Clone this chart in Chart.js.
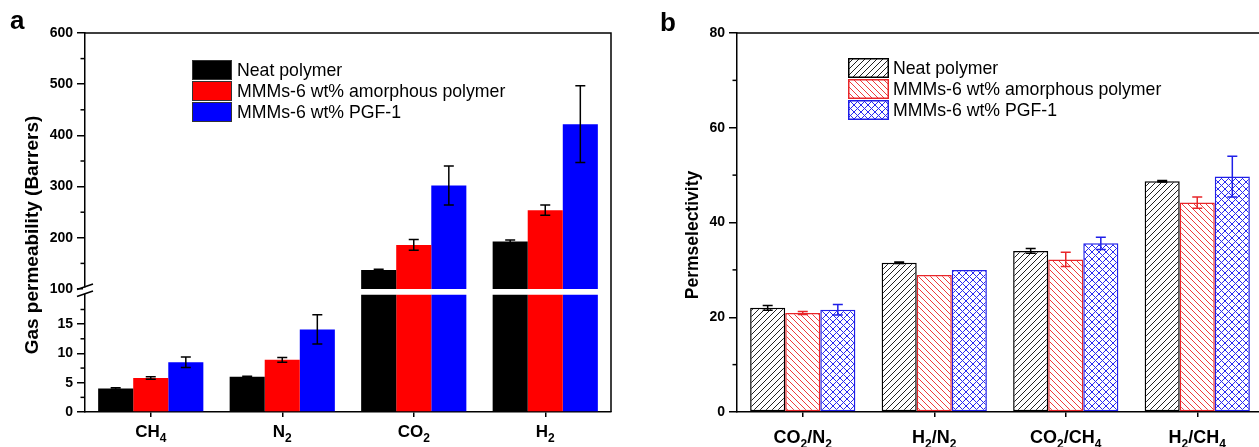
<!DOCTYPE html>
<html><head><meta charset="utf-8">
<script src="https://cdn.jsdelivr.net/npm/chart.js@4.4.1/dist/chart.umd.min.js"></script>
<style>
html,body{margin:0;padding:0;background:#fff;overflow:hidden;width:1259px;height:447px;position:relative;}
#ca{position:absolute;left:0;top:0;}
#cb{position:absolute;left:630px;top:0;}
</style></head><body>
<canvas id="ca" width="630" height="447"></canvas>
<canvas id="cb" width="650" height="447"></canvas>
<script>
// ---------- data ----------
const seriesNames = ['Neat polymer', 'MMMs-6 wt% amorphous polymer', 'MMMs-6 wt% PGF-1'];

// panel a: gas permeability (Barrers)
const gases = ['CH4', 'N2', 'CO2', 'H2'];
const permNeat = [4.0, 6.0, 137, 193];
const permNeatErr = [0.15, 0.1, 1.5, 2.5];
const permAmorph = [5.8, 8.9, 186, 254];
const permAmorphErr = [0.2, 0.4, 10.5, 10];
const permPGF = [8.5, 14.1, 302, 422];
const permPGFErr = [0.9, 2.5, 38, 75];
const permLowTicks = [0, 5, 10, 15];
const permHighTicks = [100, 200, 300, 400, 500, 600];
const breakLow = 20, breakHigh = 100;

// panel b: permselectivity
const pairs = ['CO2/N2', 'H2/N2', 'CO2/CH4', 'H2/CH4'];
const selNeat = [22.0, 31.5, 34.0, 48.7];
const selNeatErr = [0.5, 0.15, 0.5, 0.15];
const selAmorph = [20.9, 28.9, 32.2, 44.2];
const selAmorphErr = [0.3, 0, 1.5, 1.2];
const selPGF = [21.6, 30.0, 35.6, 49.7];
const selPGFErr = [1.1, 0, 1.3, 4.3];
const selTicks = [0, 20, 40, 60, 80];

// ---------- styling helpers ----------
const FAMILY = "'Liberation Sans', Arial, Helvetica, sans-serif";
Chart.defaults.font.family = FAMILY;
Chart.defaults.color = '#000';
const AW = 1.5;

function yScale(ticksList, width, extra) {
  return Object.assign({
    type: 'linear', position: 'left', stacked: false,
    afterBuildTicks: s => { s.ticks = ticksList.map(v => ({ value: v })); },
    ticks: { font: { size: 14, weight: 'bold' }, color: '#000', padding: 4 },
    grid: { drawOnChartArea: false, drawTicks: true, tickLength: 8, color: '#000', tickColor: '#000', tickWidth: AW, lineWidth: AW },
    border: { display: true, color: '#000', width: AW },
    afterFit: s => { s.width = width; }
  }, extra);
}
function xScale(labels, stacked) {
  return {
    type: 'category', labels, stacked, offset: true,
    grid: { offset: false, drawOnChartArea: false, drawTicks: true, tickLength: 5, color: '#000', tickColor: '#000', tickWidth: AW, lineWidth: AW },
    border: { display: true, color: '#000', width: AW },
    ticks: { display: false },
    afterFit: s => { s.height = 35; }
  };
}

function makePattern(color, kind, size) {
  const c = document.createElement('canvas');
  c.width = c.height = size;
  const g = c.getContext('2d');
  g.fillStyle = '#fff'; g.fillRect(0, 0, size, size);
  g.strokeStyle = color; g.lineWidth = 1;
  g.beginPath();
  if (kind === 'fwd' || kind === 'cross') {
    g.moveTo(-1, size + 1); g.lineTo(size + 1, -1);
    g.moveTo(-1, 1); g.lineTo(1, -1);
    g.moveTo(size - 1, size + 1); g.lineTo(size + 1, size - 1);
  }
  if (kind === 'back' || kind === 'cross') {
    g.moveTo(-1, -1); g.lineTo(size + 1, size + 1);
    g.moveTo(size - 1, -1); g.lineTo(size + 1, 1);
    g.moveTo(-1, size - 1); g.lineTo(1, size + 1);
  }
  g.stroke();
  return g.createPattern(c, 'repeat');
}

function drawSubLabel(ctx, text, cx, baseline, mainSize, subSize, drop) {
  const runs = text.match(/(\d+|\D+)/g);
  const fontFor = r => /\d/.test(r) ? `bold ${subSize}px ${FAMILY}` : `bold ${mainSize}px ${FAMILY}`;
  let total = 0;
  runs.forEach(r => { ctx.font = fontFor(r); total += ctx.measureText(r).width; });
  let x = cx - total / 2;
  ctx.textAlign = 'left'; ctx.textBaseline = 'alphabetic'; ctx.fillStyle = '#000';
  runs.forEach(r => {
    ctx.font = fontFor(r);
    ctx.fillText(r, x, /\d/.test(r) ? baseline + drop : baseline);
    x += ctx.measureText(r).width;
  });
}

function drawMinorTicks(chart, ids) {
  const ctx = chart.ctx;
  ctx.save(); ctx.strokeStyle = '#000'; ctx.lineWidth = AW;
  ids.forEach(id => {
    const s = chart.scales[id];
    const vals = s.ticks.map(t => t.value);
    const step = vals[1] - vals[0];
    vals.forEach(v => {
      const m = v + step / 2;
      if (m < s.max) {
        const y = s.getPixelForValue(m);
        ctx.beginPath(); ctx.moveTo(s.right - 4.5, y); ctx.lineTo(s.right, y); ctx.stroke();
      }
    });
  });
  ctx.restore();
}

function drawErrorBars(chart) {
  const ctx = chart.ctx;
  chart.data.datasets.forEach((ds, di) => {
    if (!ds.errors) return;
    const meta = chart.getDatasetMeta(di);
    ctx.save(); ctx.strokeStyle = ds.errColor; ctx.lineWidth = 1.5;
    ds.values.forEach((v, i) => {
      const e = ds.errors[i];
      if (!e) return;
      const sid = ds.breakAt !== undefined ? (v > ds.breakAt ? 'yHigh' : 'yLow') : ds.yAxisID;
      const s = chart.scales[sid];
      const x = meta.data[i].x;
      const y1 = s.getPixelForValue(v - e), y2 = s.getPixelForValue(v + e);
      ctx.beginPath();
      ctx.moveTo(x, y1); ctx.lineTo(x, y2);
      ctx.moveTo(x - 5, y1); ctx.lineTo(x + 5, y1);
      ctx.moveTo(x - 5, y2); ctx.lineTo(x + 5, y2);
      ctx.stroke();
    });
    ctx.restore();
  });
}

function drawFrame(chart) {
  const { left, right, top, bottom } = chart.chartArea;
  const ctx = chart.ctx;
  ctx.save(); ctx.strokeStyle = '#000'; ctx.lineWidth = AW;
  ctx.beginPath(); ctx.moveTo(left, top); ctx.lineTo(right, top); ctx.lineTo(right, bottom); ctx.stroke();
  ctx.restore();
}

function drawLegend(ctx, items, bx, by, bw, bh, rowH, tx, fontSize) {
  ctx.save();
  items.forEach((it, k) => {
    const y = by + k * rowH;
    ctx.fillStyle = it.fill; ctx.fillRect(bx, y, bw, bh);
    ctx.strokeStyle = it.stroke; ctx.lineWidth = it.lw;
    ctx.strokeRect(bx + it.lw / 2, y + it.lw / 2, bw - it.lw, bh - it.lw);
    ctx.fillStyle = '#000'; ctx.font = `${fontSize}px ${FAMILY}`;
    ctx.textAlign = 'left'; ctx.textBaseline = 'middle';
    ctx.fillText(it.text, tx, y + bh / 2 + 1);
  });
  ctx.restore();
}

function drawYTitle(ctx, text, cx, cy, size) {
  ctx.save();
  ctx.translate(cx, cy); ctx.rotate(-Math.PI / 2);
  ctx.font = `bold ${size}px ${FAMILY}`; ctx.fillStyle = '#000';
  ctx.textAlign = 'center'; ctx.textBaseline = 'middle';
  ctx.fillText(text, 0, 0);
  ctx.restore();
}

function drawPanelLetter(ctx, letter, x, y, size) {
  ctx.save();
  ctx.font = `bold ${size}px ${FAMILY}`; ctx.fillStyle = '#000';
  ctx.textAlign = 'left'; ctx.textBaseline = 'alphabetic';
  ctx.fillText(letter, x, y);
  ctx.restore();
}

// ---------- panel a ----------
const colA = ['#000000', '#ff0000', '#0000ff'];
const permVals = [permNeat, permAmorph, permPGF];
const permErrs = [permNeatErr, permAmorphErr, permPGFErr];
const lowPart = arr => arr.map(v => Math.min(v, breakLow));
const highPart = arr => arr.map(v => (v > breakHigh ? [breakHigh, v] : null));

const dsA = [];
permVals.forEach((vals, k) => {
  dsA.push({ label: seriesNames[k], data: lowPart(vals), yAxisID: 'yLow', stack: 's' + k,
    backgroundColor: colA[k], borderWidth: 0,
    values: vals, errors: permErrs[k], errColor: '#000', breakAt: breakHigh });
});
permVals.forEach((vals, k) => {
  dsA.push({ label: seriesNames[k], data: highPart(vals), yAxisID: 'yHigh', stack: 's' + k,
    backgroundColor: colA[k], borderWidth: 0 });
});

const pluginA = {
  id: 'panelA',
  afterDatasetsDraw(chart) { drawErrorBars(chart); },
  afterDraw(chart) {
    const ctx = chart.ctx;
    drawFrame(chart);
    drawMinorTicks(chart, ['yLow', 'yHigh']);
    // axis break marks
    const xL = chart.chartArea.left, by = chart.scales.yHigh.bottom;
    ctx.save();
    ctx.fillStyle = '#fff'; ctx.fillRect(xL - 2, by - 1.5, 4, 6.5);
    ctx.strokeStyle = '#000'; ctx.lineWidth = 1.5;
    ctx.beginPath();
    ctx.moveTo(xL - 8, by + 0.5); ctx.lineTo(xL + 8, by - 5);
    ctx.moveTo(xL - 8, by + 7.5); ctx.lineTo(xL + 8, by + 2);
    ctx.stroke();
    ctx.restore();
    // category labels
    const xs = chart.scales.x;
    gases.forEach((g, i) => drawSubLabel(ctx, g, xs.getPixelForValue(i), 437, 17, 12, 5));
    drawLegend(ctx, seriesNames.map((t, k) => ({ text: t, fill: colA[k], stroke: '#333', lw: 1 })),
      192, 60, 40, 20, 21, 237, 17.7);
    drawYTitle(ctx, 'Gas permeability (Barrers)', 33, 235, 19);
    drawPanelLetter(ctx, 'a', 10, 29, 26);
  }
};

new Chart(document.getElementById('ca'), {
  type: 'bar',
  data: { labels: gases, datasets: dsA },
  options: {
    responsive: false, animation: false, devicePixelRatio: 1,
    datasets: { bar: { categoryPercentage: 0.8, barPercentage: 1.0 } },
    layout: { padding: { left: 0, top: 33, right: 19, bottom: 0 } },
    plugins: { legend: { display: false }, tooltip: { enabled: false } },
    scales: {
      x: xScale(gases, true),
      yLow: yScale(permLowTicks, 85, { stack: 'perm', stackWeight: 123, min: 0, max: 21 }),
      yHigh: yScale(permHighTicks, 85, { stack: 'perm', stackWeight: 256, min: 100, max: 600 })
    }
  },
  plugins: [pluginA]
});

// ---------- panel b ----------
const colB = ['#000000', '#e8262a', '#1f1fe8'];
const patB = [makePattern('#222', 'fwd', 6), makePattern('#ef3b3b', 'back', 6), makePattern('#2a2af0', 'cross', 7)];
const selVals = [selNeat, selAmorph, selPGF];
const selErrs = [selNeatErr, selAmorphErr, selPGFErr];
const dsB = selVals.map((vals, k) => ({
  label: seriesNames[k], data: vals, yAxisID: 'y',
  backgroundColor: patB[k], borderColor: colB[k], borderWidth: 1.5, borderSkipped: false,
  values: vals, errors: selErrs[k], errColor: colB[k]
}));

const pluginB = {
  id: 'panelB',
  afterDatasetsDraw(chart) { drawErrorBars(chart); },
  afterDraw(chart) {
    const ctx = chart.ctx;
    drawFrame(chart);
    drawMinorTicks(chart, ['y']);
    const xs = chart.scales.x;
    pairs.forEach((p, i) => drawSubLabel(ctx, p, xs.getPixelForValue(i), 443, 18, 12, 5));
    drawLegend(ctx, seriesNames.map((t, k) => ({ text: t, fill: patB[k], stroke: colB[k], lw: 1.5 })),
      218, 58, 41, 20, 21, 263, 17.7);
    drawYTitle(ctx, 'Permselectivity', 63, 235, 17.5);
    drawPanelLetter(ctx, 'b', 30, 31, 26);
  }
};

new Chart(document.getElementById('cb'), {
  type: 'bar',
  data: { labels: pairs, datasets: dsB },
  options: {
    responsive: false, animation: false, devicePixelRatio: 1,
    datasets: { bar: { categoryPercentage: 0.8, barPercentage: 1.0 } },
    layout: { padding: { left: 0, top: 33, right: 17, bottom: 0 } },
    plugins: { legend: { display: false }, tooltip: { enabled: false } },
    scales: {
      x: xScale(pairs, false),
      y: yScale(selTicks, 107, { min: 0, max: 80 })
    }
  },
  plugins: [pluginB]
});
</script>
</body></html>
